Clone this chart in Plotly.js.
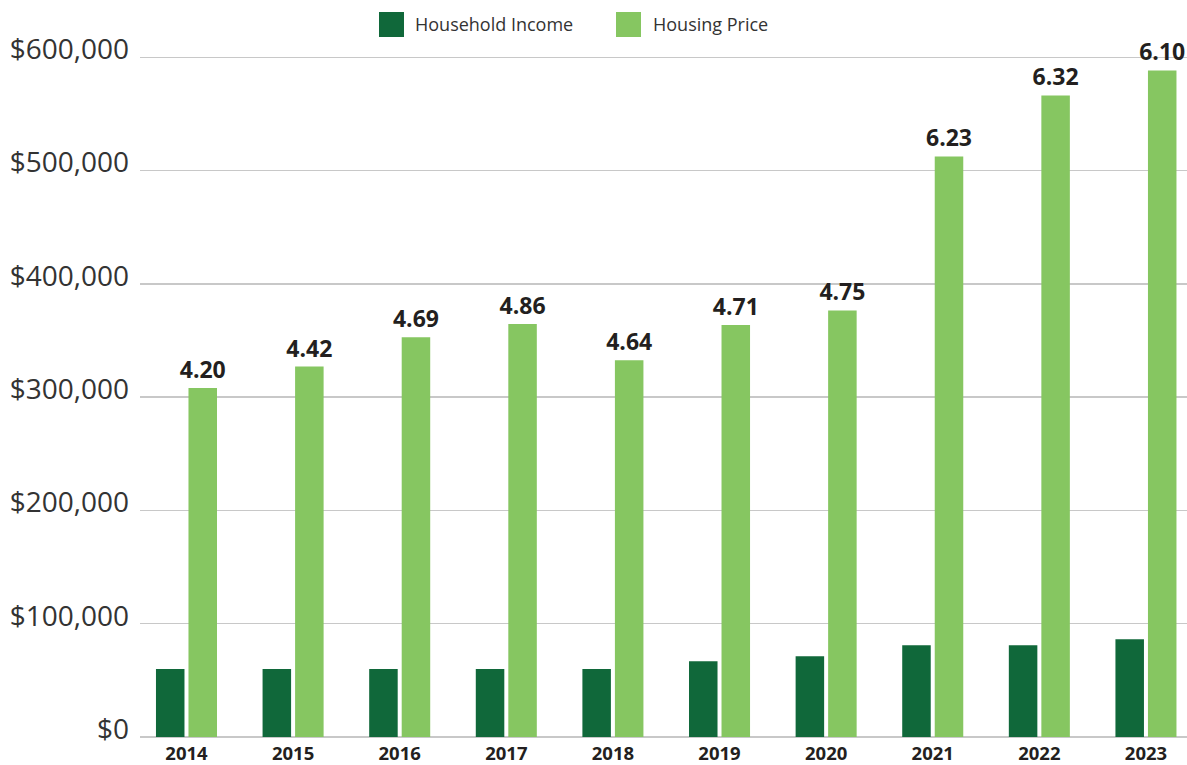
<!DOCTYPE html>
<html>
<head>
<meta charset="utf-8">
<script src="https://cdn.plot.ly/plotly-3.0.1.min.js"></script>
<style>html,body{margin:0;padding:0;background:#fff;}#chart{width:1187px;height:765px;}</style>
</head>
<body>
<div id="chart"></div>
<script>
// ---- data ----
const years = ["2014","2015","2016","2017","2018","2019","2020","2021","2022","2023"];
const householdIncome = [60000, 60000, 60000, 60000, 60000, 66800, 71200, 80900, 81000, 86200];
const housingPrice = [308000, 327000, 353000, 364500, 332500, 363600, 376600, 512500, 566400, 588400];
const priceToIncomeLabels = ["4.20","4.42","4.69","4.86","4.64","4.71","4.75","6.23","6.32","6.10"];
const seriesNames = ["Household Income", "Housing Price"];
const yTickVals = [0, 100000, 200000, 300000, 400000, 500000, 600000];
const yTickText = ["$0","$100,000","$200,000","$300,000","$400,000","$500,000","$600,000"];

const colIncome = "#10683A";
const colHousing = "#86C661";
const W = 1187, H = 765;
const M = {l: 140, r: 0, t: 46, b: 28};
const plotW = W - M.l - M.r, plotH = H - M.t - M.b;
const px = x => (x - M.l) / plotW;
const py = y => (H - M.b - y) / plotH;

const traces = [
  {type: "bar", name: seriesNames[0], x: years, y: householdIncome,
   marker: {color: colIncome}, hoverinfo: "x+y"},
  {type: "bar", name: seriesNames[1], x: years, y: housingPrice,
   marker: {color: colHousing}, text: priceToIncomeLabels,
   textposition: "outside", cliponaxis: false, constraintext: "none",
   textfont: {family: "Open Sans, sans-serif", size: 23, weight: 700, color: "#231F20"},
   hoverinfo: "x+y"}
];

// custom legend (large swatches)
const legendItems = [
  {x0: 379, x1: 404, tx: 413, name: seriesNames[0], color: colIncome},
  {x0: 616, x1: 641, tx: 651, name: seriesNames[1], color: colHousing}
];
const shapes = legendItems.map(it => ({
  type: "rect", xref: "paper", yref: "paper",
  x0: px(it.x0), x1: px(it.x1), y0: py(37), y1: py(12),
  fillcolor: it.color, line: {width: 0}
}));
const annotations = legendItems.map(it => ({
  xref: "paper", yref: "paper", x: px(it.tx), y: py(24.5),
  xanchor: "left", yanchor: "middle", showarrow: false,
  text: it.name, font: {family: "Open Sans, sans-serif", size: 18, color: "#333333"}
}));

const layout = {
  width: W, height: H,
  margin: M,
  paper_bgcolor: "#ffffff", plot_bgcolor: "#ffffff",
  showlegend: false,
  barmode: "group", bargap: 0.39, bargroupgap: 0.123,
  xaxis: {
    type: "category", range: [-0.436, 9.385],
    showgrid: false, zeroline: false, showline: false, ticks: "",
    ticklabelstandoff: 3,
    tickfont: {family: "Open Sans, sans-serif", size: 18.5, weight: 700, color: "#231F20"},
    fixedrange: true
  },
  yaxis: {
    range: [0, 610000],
    tickvals: yTickVals, ticktext: yTickText,
    showgrid: true, gridcolor: "#C8C8C8", gridwidth: 1.5,
    zeroline: true, zerolinecolor: "#C8C8C8", zerolinewidth: 1.5,
    showline: false, ticks: "",
    ticklabelstandoff: 10, ticklabelshift: -8,
    tickfont: {family: "Open Sans, sans-serif", size: 28, weight: 400, color: "#333333"},
    fixedrange: true
  },
  shapes: shapes,
  annotations: annotations
};

Plotly.newPlot("chart", traces, layout, {displayModeBar: false, staticPlot: true});
</script>
</body>
</html>
